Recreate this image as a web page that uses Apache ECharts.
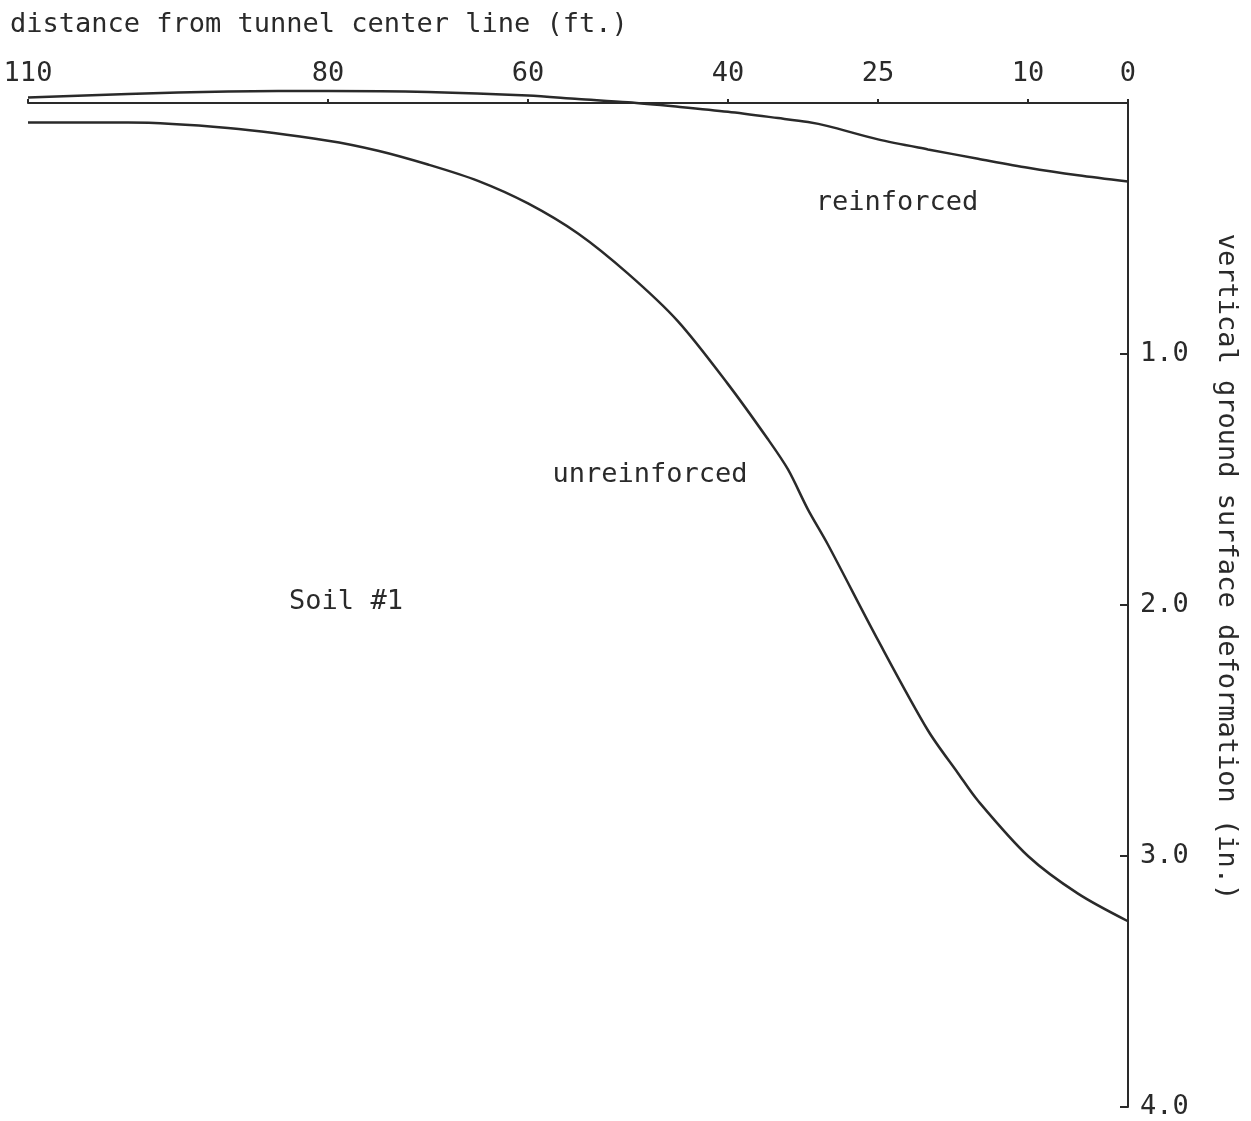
<!DOCTYPE html>
<html>
<head>
<meta charset="utf-8">
<script src="https://cdn.jsdelivr.net/npm/echarts@6/dist/echarts.min.js"></script>
<style>
  html, body { margin: 0; padding: 0; background: #fff; }
  #chart { width: 1251px; height: 1121px; }
</style>
</head>
<body>
<div id="chart"></div>
<script>
// Axis tick positions
const distanceTicks = [110, 80, 60, 40, 25, 10, 0];
const deformationTicks = [1, 2, 3, 4];

// Reinforced tunnel: distance (ft.) and vertical deformation (in.)
const reinforcedFt = [110, 100, 90, 80, 70, 60, 55, 50, 45, 40, 35, 32, 30, 25, 20, 15, 10, 5, 0];
const reinforcedIn = [-0.022, -0.036, -0.046, -0.048, -0.044, -0.030, -0.016, -0.003, 0.015, 0.035,
                      0.060, 0.076, 0.092, 0.145, 0.185, 0.222, 0.258, 0.288, 0.313];

// Unreinforced tunnel
const unreinforcedFt = [110, 100, 90, 80, 75, 70, 65, 60, 55, 50, 45, 40, 36, 34, 32, 30, 25, 20, 17, 15, 10, 5, 0];
const unreinforcedIn = [0.078, 0.078, 0.100, 0.150, 0.190, 0.245, 0.310, 0.400, 0.520, 0.680, 0.870, 1.120,
                        1.340, 1.460, 1.620, 1.760, 2.140, 2.500, 2.670, 2.780, 3.000, 3.150, 3.260];

const FONT = '"DejaVu Sans Mono", "Liberation Mono", monospace';
const INK = '#2a2a2a';

const pairs = (xs, ys) => xs.map((x, i) => [x, ys[i]]);

const chart = echarts.init(document.getElementById('chart'));

const textStyle = { fontFamily: FONT, fontSize: 27, fill: INK, align: 'center', verticalAlign: 'middle' };

chart.setOption({
  backgroundColor: '#fff',
  animation: false,
  title: {
    text: 'distance from tunnel center line (ft.)',
    left: 5,
    top: 6,
    textStyle: { fontFamily: FONT, fontSize: 27, fontWeight: 'normal', color: INK }
  },
  grid: { left: 28, right: 123, top: 103, bottom: 14, containLabel: false, outerBoundsMode: 'none' },
  xAxis: {
    type: 'value',
    position: 'top',
    inverse: true,
    min: 0,
    max: 110,
    splitLine: { show: false },
    axisLine: { show: true, lineStyle: { color: INK, width: 2 } },
    axisTick: { show: true, customValues: distanceTicks, length: 4, lineStyle: { color: INK, width: 2 } },
    axisLabel: {
      customValues: distanceTicks,
      margin: 16,
      fontFamily: FONT,
      fontSize: 27,
      color: INK
    }
  },
  yAxis: {
    type: 'value',
    position: 'right',
    inverse: true,
    min: 0,
    max: 4,
    interval: 1,
    splitLine: { show: false },
    axisLine: { show: true, lineStyle: { color: INK, width: 2 } },
    axisTick: { show: true, inside: true, customValues: deformationTicks, length: 8, lineStyle: { color: INK, width: 2 } },
    axisLabel: {
      customValues: deformationTicks,
      margin: 12,
      fontFamily: FONT,
      fontSize: 27,
      color: INK,
      formatter: v => v.toFixed(1)
    }
  },
  series: [
    {
      name: 'reinforced',
      type: 'line',
      data: pairs(reinforcedFt, reinforcedIn),
      smooth: 0.3,
      clip: false,
      showSymbol: false,
      lineStyle: { color: INK, width: 2.5 }
    },
    {
      name: 'unreinforced',
      type: 'line',
      data: pairs(unreinforcedFt, unreinforcedIn),
      smooth: 0.3,
      clip: false,
      showSymbol: false,
      lineStyle: { color: INK, width: 2.5 }
    }
  ],
  graphic: [
    // vertical axis title, reading top to bottom
    { type: 'text', x: 1226, y: 567, rotation: -Math.PI / 2,
      style: Object.assign({ text: 'vertical ground surface deformation (in.)' }, textStyle) },
    // curve and soil annotations
    { type: 'text', x: 897, y: 203, style: Object.assign({ text: 'reinforced' }, textStyle) },
    { type: 'text', x: 650, y: 475, style: Object.assign({ text: 'unreinforced' }, textStyle) },
    { type: 'text', x: 346, y: 602, style: Object.assign({ text: 'Soil #1' }, textStyle) }
  ]
});
</script>
</body>
</html>
